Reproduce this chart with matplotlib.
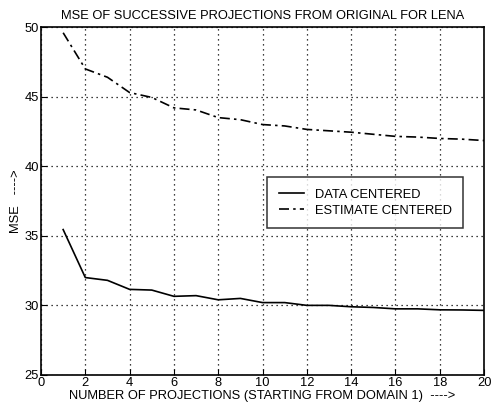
import matplotlib
matplotlib.use("Agg")
import matplotlib.pyplot as plt

# values
proj = list(range(1, 21))
data_centered = [35.45, 32.0, 31.8, 31.15, 31.1, 30.65, 30.7, 30.4, 30.5, 30.2,
                 30.2, 30.0, 30.0, 29.9, 29.85, 29.75, 29.75, 29.68, 29.67, 29.64]
estimate_centered = [49.6, 47.0, 46.4, 45.3, 44.95, 44.2, 44.05, 43.5, 43.35, 43.0,
                     42.9, 42.65, 42.55, 42.45, 42.3, 42.15, 42.1, 42.0, 41.95, 41.85]
xticks = list(range(0, 21, 2))
yticks = [25, 30, 35, 40, 45, 50]

plt.rcParams['font.family'] = ['Liberation Sans', 'DejaVu Sans']
fs = 9.3
fig = plt.figure(figsize=(4.94, 4.12), dpi=100)
ax = fig.add_axes([0.083, 0.09, 0.897, 0.844])
ax.plot(proj, data_centered, color='k', lw=1.2, label='DATA CENTERED')
ax.plot(proj, estimate_centered, color='k', lw=1.2, ls='-.', dashes=(6, 2.5, 1.5, 2.5),
        label='ESTIMATE CENTERED')
ax.set_xlim(0, 20); ax.set_ylim(25, 50)
ax.set_xticks(xticks); ax.set_yticks(yticks)
ax.grid(True, ls=(0, (1, 3)), color='k', lw=0.9)
ax.tick_params(direction='in', length=4, labelsize=fs, pad=1.5)
for s in ax.spines.values(): s.set_linewidth(1.2)
ax.set_title("MSE OF SUCCESSIVE PROJECTIONS FROM ORIGINAL FOR LENA", fontsize=fs, pad=6)
ax.set_xlabel("NUMBER OF PROJECTIONS (STARTING FROM DOMAIN 1)  ---->", fontsize=fs, labelpad=1)
ax.set_ylabel("MSE   ---->", fontsize=fs, labelpad=2)
leg = ax.legend(loc='upper left', bbox_to_anchor=(0.51, 0.569), fontsize=fs, frameon=True,
                fancybox=False, edgecolor='k', handlelength=2.0, borderpad=0.9, labelspacing=0.3,
                borderaxespad=0)
leg.get_frame().set_linewidth(1.1)
fig.savefig("out.png", facecolor='white')
